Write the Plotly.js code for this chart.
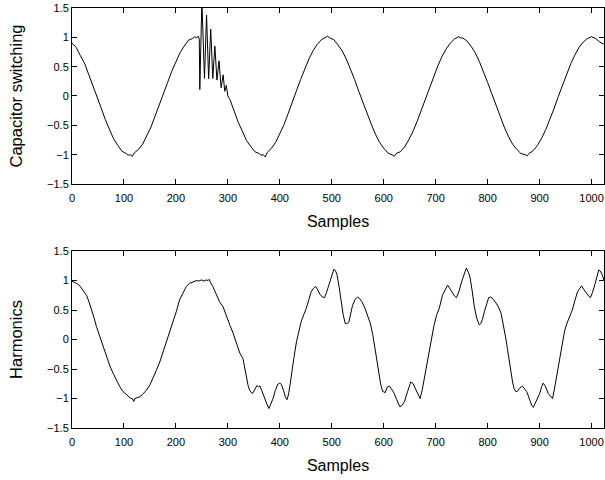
<!DOCTYPE html>
<html>
<head>
<meta charset="utf-8">
<script src="https://cdn.plot.ly/plotly-3.0.1.min.js"></script>
<style>html,body{margin:0;padding:0;background:#fff;}#chart{width:605px;height:480px;}</style>
</head>
<body>
<div id="chart"></div>
<script>
// Top panel: capacitor switching signal (sample index, value)
const capSamples = [0,8,16,24,32,40,48,56,64,72,80,88,96,104,108,112,116,120,128,136,144,152,160,168,176,184,192,200,208,216,224,232,236,240,243,245,
  246,250,255,259,263,267,271,275,279,283,287,291,294,297,300,
  304,312,320,328,336,344,352,360,364,368,372,376,384,392,400,408,416,424,432,440,448,456,464,472,480,488,492,496,504,512,520,528,536,544,552,560,568,576,584,592,600,608,612,616,620,624,632,640,648,656,664,672,680,688,696,704,712,720,728,736,744,748,752,760,768,776,784,792,800,808,816,824,832,840,848,856,864,872,876,880,888,896,904,912,920,928,936,944,952,960,968,976,984,992,1000,1004,1008,1016,1024];
const capValues = [0.90,0.83,0.69,0.56,0.37,0.19,-0.02,-0.20,-0.40,-0.56,-0.73,-0.84,-0.94,-0.98,-1.01,-1.00,-1.03,-0.97,-0.91,-0.82,-0.68,-0.53,-0.34,-0.16,0.04,0.23,0.42,0.59,0.74,0.85,0.95,0.98,1.01,0.99,1.02,0.97,
  0.11,1.62,0.30,1.38,0.29,1.14,0.30,0.85,0.27,0.60,0.14,0.36,0.08,0.18,0.00,
  -0.06,-0.26,-0.45,-0.60,-0.76,-0.86,-0.95,-0.98,-1.01,-1.00,-1.04,-0.96,-0.89,-0.79,-0.64,-0.49,-0.30,-0.12,0.09,0.28,0.46,0.63,0.77,0.88,0.96,1.00,1.02,0.99,0.96,0.87,0.77,0.63,0.46,0.28,0.08,-0.11,-0.31,-0.48,-0.65,-0.79,-0.89,-0.97,-0.99,-1.00,-1.03,-0.98,-0.95,-0.87,-0.75,-0.61,-0.44,-0.25,-0.06,0.14,0.33,0.51,0.67,0.80,0.90,0.97,1.01,0.99,0.99,0.94,0.85,0.74,0.59,0.42,0.23,0.04,-0.16,-0.35,-0.53,-0.69,-0.82,-0.91,-0.98,-1.00,-1.02,-0.98,-0.93,-0.84,-0.72,-0.57,-0.40,-0.21,-0.01,0.18,0.37,0.55,0.70,0.83,0.92,0.98,1.01,0.99,0.98,0.92,0.88];

// Bottom panel: harmonics signal (sample index, value)
const harmSamples = [0,5,9,14,18,23,28,33,38,43,47,52,57,62,67,73,79,85,92,98,105,112,117,119,121,125,131,137,143,150,156,162,169,175,182,188,195,201,207,214,220,226,233,240,244,249,254,258,262,264,267,271,277,284,291,297,304,310,316,323,329,333,336,339,342,346,348,352,356,359,362,365,368,371,375,379,383,387,391,396,400,403,407,411,414,417,420,422,427,432,437,441,446,451,456,460,465,469,473,477,482,486,490,494,499,504,507,510,514,518,522,526,530,533,537,540,545,550,554,558,563,569,574,579,584,589,594,598,603,607,611,615,620,625,631,635,640,646,652,656,661,666,670,674,678,683,688,692,697,702,707,713,718,723,727,731,736,740,745,750,755,759,763,766,770,774,779,784,787,790,794,798,802,806,811,816,821,826,829,832,835,838,841,845,848,851,854,857,862,867,871,875,878,881,885,888,892,896,900,904,907,911,914,917,921,925,929,934,939,944,948,952,957,963,968,973,977,981,985,989,994,998,1002,1007,1011,1014,1017,1021,1024];
const harmValues = [0.99,0.97,0.95,0.92,0.87,0.82,0.75,0.63,0.50,0.35,0.22,0.09,-0.04,-0.18,-0.32,-0.45,-0.57,-0.69,-0.80,-0.88,-0.94,-0.99,-1.01,-1.05,-1.00,-0.99,-0.97,-0.92,-0.86,-0.77,-0.66,-0.53,-0.38,-0.22,-0.04,0.13,0.30,0.48,0.67,0.80,0.90,0.95,0.98,1.00,0.99,1.01,0.99,1.01,1.00,1.02,0.96,0.90,0.78,0.64,0.55,0.39,0.24,0.11,-0.06,-0.23,-0.32,-0.50,-0.66,-0.78,-0.86,-0.91,-0.91,-0.84,-0.78,-0.80,-0.79,-0.86,-0.94,-1.00,-1.09,-1.17,-1.09,-1.00,-0.87,-0.76,-0.74,-0.76,-0.86,-0.98,-1.02,-0.92,-0.75,-0.60,-0.32,-0.04,0.16,0.30,0.42,0.53,0.68,0.80,0.87,0.90,0.84,0.77,0.72,0.71,0.80,0.92,1.07,1.19,1.17,1.10,0.90,0.64,0.42,0.27,0.27,0.30,0.45,0.58,0.68,0.72,0.69,0.64,0.55,0.42,0.28,0.08,-0.20,-0.49,-0.75,-0.88,-0.90,-0.80,-0.79,-0.84,-0.91,-1.02,-1.14,-1.12,-1.05,-0.88,-0.72,-0.74,-0.83,-0.94,-1.00,-0.86,-0.66,-0.45,-0.22,0.02,0.25,0.42,0.53,0.75,0.85,0.92,0.87,0.81,0.74,0.71,0.82,0.98,1.12,1.21,1.14,1.06,0.84,0.58,0.36,0.25,0.27,0.34,0.48,0.62,0.71,0.72,0.68,0.62,0.55,0.44,0.30,0.22,0.02,-0.15,-0.35,-0.55,-0.72,-0.83,-0.88,-0.88,-0.82,-0.79,-0.83,-0.88,-0.95,-1.03,-1.12,-1.15,-1.08,-0.99,-0.92,-0.80,-0.74,-0.79,-0.86,-0.92,-0.96,-1.00,-0.82,-0.55,-0.30,-0.04,0.14,0.26,0.36,0.50,0.66,0.81,0.86,0.91,0.85,0.79,0.74,0.71,0.80,0.95,1.10,1.18,1.16,1.09,1.00];

const xTickVals = [0,100,200,300,400,500,600,700,800,900,1000];
const yTickVals = [-1.5,-1,-0.5,0,0.5,1,1.5];
const yTickText = ['\u22121.5','\u22121','\u22120.5','0','0.5','1','1.5'];
const topYTitle = 'Capacitor switching';
const bottomYTitle = 'Harmonics';
const xTitle = 'Samples';

const font = 'Liberation Sans, Arial, Helvetica, sans-serif';
function xa(anchor){
  return {range:[0,1024], tickvals:xTickVals, ticks:'inside', ticklen:5, tickcolor:'#000',
    showline:true, linecolor:'#000', linewidth:1, mirror:'ticks', showgrid:false, zeroline:false,
    tickfont:{size:11, color:'#000', family:font}, ticklabelstandoff:4, anchor:anchor,
    title:{text:xTitle, font:{size:16, color:'#000', family:font}, standoff:12}};
}
function ya(anchor, dom, t){
  return {range:[-1.5,1.5], tickvals:yTickVals, ticktext:yTickText, ticks:'inside', ticklen:5, tickcolor:'#000',
    showline:true, linecolor:'#000', linewidth:1, mirror:'ticks', showgrid:false, zeroline:false,
    tickfont:{size:11, color:'#000', family:font}, anchor:anchor, domain:dom,
    title:{text:t, font:{size:16.5, color:'#000', family:font}, standoff:20}};
}

const data = [
  {x:capSamples, y:capValues, type:'scatter', mode:'lines', line:{color:'#000', width:1}, xaxis:'x', yaxis:'y', hoverinfo:'skip'},
  {x:harmSamples, y:harmValues, type:'scatter', mode:'lines', line:{color:'#000', width:1}, xaxis:'x2', yaxis:'y2', hoverinfo:'skip'}
];
const layout = {
  width:605, height:480, showlegend:false,
  margin:{l:72, r:1, t:8, b:52},
  paper_bgcolor:'#fff', plot_bgcolor:'#fff',
  font:{family:font, color:'#000'},
  xaxis:xa('y'), yaxis:ya('x',[0.581,1],topYTitle),
  xaxis2:xa('y2'), yaxis2:ya('x2',[0,0.4214],bottomYTitle)
};
Plotly.newPlot('chart', data, layout, {displayModeBar:false, staticPlot:true});
</script>
</body>
</html>
